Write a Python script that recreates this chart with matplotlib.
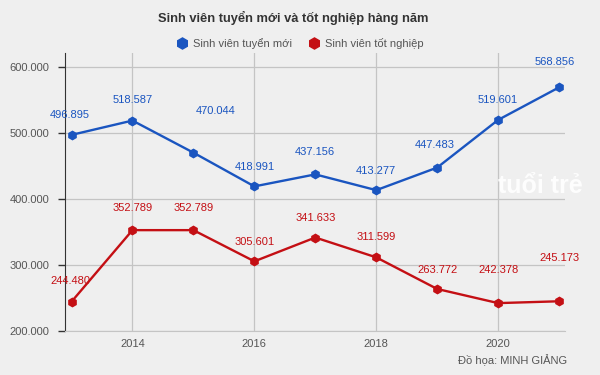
import matplotlib.pyplot as plt

years = [2013, 2014, 2015, 2016, 2017, 2018, 2019, 2020, 2021]
tuyen_moi = [496895, 518587, 470044, 418991, 437156, 413277, 447483, 519601, 568856]
tot_nghiep = [244480, 352789, 352789, 305601, 341633, 311599, 263772, 242378, 245173]

# label offsets in points (dx, dy)
off_blue = [(-1, 14), (0, 15), (16, 30), (0, 14), (0, 16), (0, 14), (-2, 16), (0, 14), (-3, 18)]
off_red = [(-1, 15), (0, 16), (0, 16), (0, 14), (0, 14), (0, 15), (0, 14), (0, 24), (0, 31)]

BLUE = '#1a55c0'
RED = '#c40f14'
BG = '#efefef'

plt.rcParams['font.family'] = ['Liberation Sans', 'DejaVu Sans']

fig = plt.figure(figsize=(6, 3.75), dpi=100, facecolor=BG)
ax = fig.add_axes([0.108, 0.117, 0.834, 0.742], facecolor=BG)

ax.plot(years, tuyen_moi, color=BLUE, lw=1.7, marker='h', ms=6, label='Sinh viên tuyển mới', zorder=3)
ax.plot(years, tot_nghiep, color=RED, lw=1.7, marker='h', ms=6, label='Sinh viên tốt nghiệp', zorder=3)

def fmt(v):
    return f'{v:,}'.replace(',', '.')

for x, y, (dx, dy) in zip(years, tuyen_moi, off_blue):
    ax.annotate(fmt(y), (x, y), xytext=(dx, dy), textcoords='offset points',
                ha='center', va='center', fontsize=8, color=BLUE)
for x, y, (dx, dy) in zip(years, tot_nghiep, off_red):
    ax.annotate(fmt(y), (x, y), xytext=(dx, dy), textcoords='offset points',
                ha='center', va='center', fontsize=8, color=RED)

ax.set_xlim(2012.89, 2021.1)
ax.set_ylim(200000, 621000)
ax.set_xticks([2014, 2016, 2018, 2020])
ax.set_yticks([200000, 300000, 400000, 500000, 600000])
ax.set_yticklabels([fmt(v) for v in [200000, 300000, 400000, 500000, 600000]])
ax.grid(True, color='#c4c4c4', lw=0.9)
ax.set_axisbelow(True)
for s in ['top', 'right']:
    ax.spines[s].set_visible(False)
ax.spines['bottom'].set_color('#c4c4c4')
ax.spines['left'].set_color('#333333')
ax.tick_params(axis='y', length=5, width=1, color='#333333', labelsize=8, labelcolor='#555555', pad=6)
ax.tick_params(axis='x', length=0, labelsize=8, labelcolor='#555555', pad=6)

fig.text(0.488, 0.952, 'Sinh viên tuyển mới và tốt nghiệp hàng năm', ha='center', va='center',
         fontsize=9.3, fontweight='bold', color='#333333')
ax.legend(loc='center', bbox_to_anchor=(0.5, 0.885), bbox_transform=fig.transFigure, ncol=2,
          frameon=False, fontsize=8, labelcolor='#555555', handlelength=1, handletextpad=0.5,
          columnspacing=1.5)
for line in ax.get_legend().get_lines():
    line.set_linestyle('none')
    line.set_markersize(8)

fig.text(0.945, 0.04, 'Đồ họa: MINH GIẢNG', ha='right', va='center', fontsize=8, color='#555555')
fig.text(0.9, 0.505, 'tuổi trẻ', ha='center', va='center', fontsize=18, fontweight='bold',
         color='white', alpha=0.9)

fig.savefig('out.png', dpi=100, facecolor=BG)
